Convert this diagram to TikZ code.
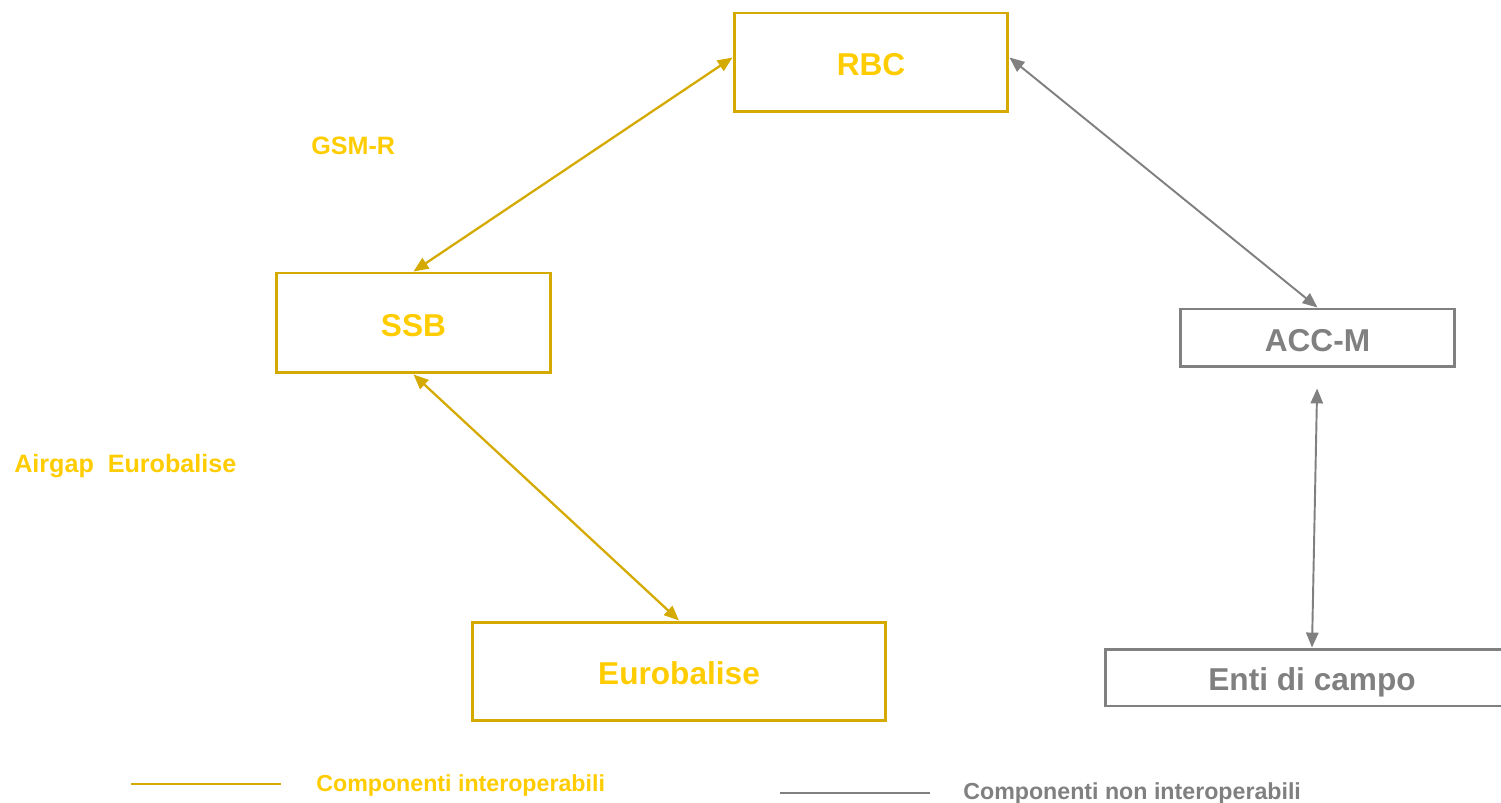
\documentclass[tikz,border=0pt]{standalone}
\usepackage{fontspec}
\setmainfont{Liberation Sans}
\usepackage{tikz}
\usetikzlibrary{positioning,shapes,arrows.meta}

\definecolor{goldline}{RGB}{212,170,0}
\definecolor{goldtext}{RGB}{255,204,0}
\definecolor{greyline}{RGB}{128,128,128}

\begin{document}
\begin{tikzpicture}[x=0.02cm, y=-0.02cm,
		ibox/.style={draw=goldline, line width=1.7pt, text=goldtext, font=\fontsize{18}{20}\selectfont\bfseries, inner sep=0pt, text height=15pt, text depth=0pt},
		nbox/.style={draw=greyline, line width=1.7pt, text=greyline, font=\fontsize{18}{20}\selectfont\bfseries, inner sep=0pt, text height=15pt, text depth=0pt},
		ilink/.style={{Triangle[length=8.5pt,width=7pt]}-{Triangle[length=8.5pt,width=7pt]}, draw=goldline, fill=goldline, line width=1.3pt},
		nlink/.style={{Triangle[length=8.5pt,width=7pt]}-{Triangle[length=8.5pt,width=7pt]}, draw=greyline, fill=greyline, line width=1.1pt},
		ilabel/.style={text=goldtext, font=\fontsize{14.3}{16}\selectfont\bfseries, anchor=west, inner sep=0pt},
		legend/.style={font=\fontsize{13.2}{15}\selectfont\bfseries, anchor=west, inner sep=0pt}]
				\clip (0,0) rectangle (1501,803);
				\useasboundingbox (0,0) rectangle (1501,803);
				\node[ibox, minimum width=5.48cm, minimum height=1.98cm] (RBC) at (871, 62.5) {RBC};
				\node[ibox, minimum width=5.5cm, minimum height=2cm] (SSB) at (413.5, 323) {SSB};
				\node[ibox, minimum width=8.28cm, minimum height=1.98cm] (EB) at (679, 671.5) {Eurobalise};
				\node[nbox, minimum width=5.5cm, minimum height=1.16cm] (ACC) at (1317.5, 338) {ACC-M};
				\node[nbox, minimum width=8.28cm, minimum height=1.14cm] (ENTI) at (1312, 677.5) {Enti di campo};
				\node[ilabel] (GSMR) at (311, 146) {GSM-R};
				\node[ilabel] (AIR) at (14, 466) {Airgap\ \ Eurobalise};
				\draw[ilink] ([yshift=0.1cm]RBC.west) -- (SSB.north);
				\draw[ilink] (SSB.south) -- (EB.north);
				\draw[nlink] ([yshift=0.1cm]RBC.east) -- (ACC.north);
				\draw[nlink, shorten <=0.4cm] (ACC.south) -- (ENTI.north);
				% legenda
				\coordinate (ia) at (131, 784);
				\coordinate (ib) at (281, 784);
				\coordinate (na) at (780, 793);
				\coordinate (nb) at (930, 793);
				\draw[goldline, line width=1.6pt] (ia) -- (ib);
				\draw[greyline, line width=1.6pt] (na) -- (nb);
				\node[legend, text=goldtext] (ileg) at (316, 786) {Componenti interoperabili};
				\node[legend, text=greyline] (nleg) at (963, 794) {Componenti non interoperabili};
			\end{tikzpicture}
\end{document}
